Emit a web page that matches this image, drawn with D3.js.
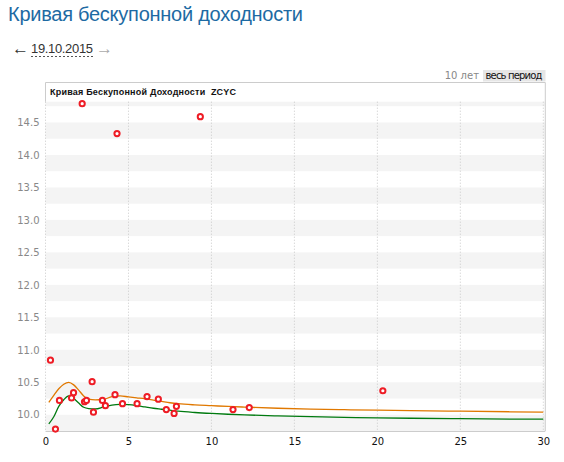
<!DOCTYPE html>
<html>
<head>
<meta charset="utf-8">
<script src="https://cdn.jsdelivr.net/npm/d3@7"></script>
<style>
  body { margin: 0; background: #fff; }
  svg { display: block; }
</style>
</head>
<body>
<div id="chart"></div>
<script>
// bond points: term (years) and yield (%)
var pointTerms = [0.30, 0.60, 0.84, 1.57, 1.69, 2.21, 2.35, 2.47, 2.81, 2.89, 3.43, 3.61, 4.19,
                  4.31, 4.64, 5.52, 6.12, 6.80, 7.28, 7.75, 7.89, 9.33, 11.30, 12.28, 20.33];
var pointYields = [10.84, 9.78, 10.22, 10.26, 10.34, 14.79, 10.20, 10.22, 10.51, 10.04, 10.22, 10.14, 10.31,
                   14.33, 10.17, 10.17, 10.28, 10.24, 10.08, 10.02, 10.13, 14.59, 10.08, 10.11, 10.37];

// curve sample terms and the two curves
var curveTerms = [0.2, 0.5, 0.8, 1.1, 1.4, 1.7, 2.0, 2.3, 2.6, 3.0, 3.5, 4.0, 4.5, 5.0, 5.5, 6.0,
                  6.5, 7.0, 7.5, 8.0, 9.0, 10, 11, 12, 14, 16, 18, 20, 22, 25, 28, 30];
var orangeCurve = [10.19, 10.30, 10.40, 10.47, 10.50, 10.46, 10.38, 10.29, 10.24, 10.23, 10.235, 10.28,
                   10.29, 10.275, 10.26, 10.245, 10.225, 10.205, 10.185, 10.17, 10.152, 10.14, 10.128,
                   10.118, 10.10, 10.087, 10.078, 10.07, 10.063, 10.055, 10.046, 10.04];
var greenCurve = [9.86, 9.97, 10.13, 10.23, 10.29, 10.25, 10.18, 10.115, 10.095, 10.09, 10.12, 10.15,
                  10.16, 10.155, 10.14, 10.12, 10.10, 10.085, 10.07, 10.055, 10.035, 10.02, 10.008,
                  9.998, 9.982, 9.97, 9.96, 9.952, 9.946, 9.94, 9.934, 9.932];

var xTicks = [0, 5, 10, 15, 20, 25, 30];
var yTicks = [10.0, 10.5, 11.0, 11.5, 12.0, 12.5, 13.0, 13.5, 14.0, 14.5];

var svgWidth = 564;
var svgHeight = 462;

var svg = d3.select("#chart").append("svg")
    .attr("width", svgWidth)
    .attr("height", svgHeight);

// page header
svg.append("text")
    .attr("x", 8)
    .attr("y", 21)
    .attr("fill", "#1d6aa3")
    .attr("textLength", 295)
    .style("font", "20px 'Liberation Sans', Arial, sans-serif")
    .text("Кривая бескупонной доходности");

var dateRow = svg.append("g").style("font", "13px 'Liberation Sans', Arial, sans-serif");
dateRow.append("text").attr("x", 12).attr("y", 54).attr("fill", "#333")
    .style("font-size", "17px").text("←");
dateRow.append("text").attr("x", 31).attr("y", 53).attr("fill", "#333")
    .attr("textLength", 62).text("19.10.2015");
dateRow.append("line")
    .attr("x1", 31).attr("x2", 93).attr("y1", 56.5).attr("y2", 56.5)
    .attr("stroke", "#555").attr("stroke-dasharray", "2,2");
dateRow.append("text").attr("x", 96).attr("y", 54).attr("fill", "#aaa")
    .style("font-size", "17px").text("→");

// range buttons
svg.append("rect")
    .attr("x", 483).attr("y", 70).attr("width", 62.5).attr("height", 11.5)
    .attr("fill", "#e6e6e6");
svg.append("text")
    .attr("x", 514).attr("y", 79).attr("text-anchor", "middle")
    .style("font", "10px 'DejaVu Sans', Verdana, sans-serif")
    .attr("fill", "#111").attr("textLength", 57)
    .text("весь период");
svg.append("text")
    .attr("x", 479).attr("y", 79).attr("text-anchor", "end")
    .style("font", "10px 'DejaVu Sans', Verdana, sans-serif")
    .attr("fill", "#888")
    .text("10 лет");

// plot area
var plotLeft = 45.5, plotRight = 543.3, plotTop = 101.7, plotBottom = 431, boxRight = 545.3;

var x = d3.scaleLinear().domain([0, 30]).range([plotLeft, plotRight]);
var y = d3.scaleLinear().domain([9.75, 14.82]).range([plotBottom, plotTop]);

// alternate bands every 0.25
var bands = d3.range(9.75, 14.82, 0.25).filter((d, i) => i % 2 === 0);
svg.append("g").selectAll("rect").data(bands)
  .enter().append("rect")
    .attr("x", plotLeft)
    .attr("width", boxRight - plotLeft)
    .attr("y", d => y(Math.min(d + 0.25, 14.82)))
    .attr("height", d => y(d) - y(Math.min(d + 0.25, 14.82)))
    .attr("fill", "#f4f4f4");

// chart box
svg.append("path")
    .attr("d", `M${plotLeft},${plotTop}V82.5H${boxRight}V${plotBottom}`)
    .attr("fill", "none")
    .attr("stroke", "#ccc");

svg.append("text")
    .attr("x", 50).attr("y", 94.5)
    .style("font", "bold 9px 'Liberation Sans', Arial, sans-serif")
    .style("white-space", "pre")
    .attr("fill", "#111")
    .attr("textLength", 186)
    .text("Кривая Бескупонной Доходности  ZCYC");

// vertical dotted grid
svg.append("g").selectAll("line").data(xTicks)
  .enter().append("line")
    .attr("x1", d => x(d)).attr("x2", d => x(d))
    .attr("y1", plotTop).attr("y2", plotBottom)
    .attr("stroke", "#c8c8c8")
    .attr("stroke-dasharray", "1,2");

// x axis
var bottomAxis = d3.axisBottom(x).tickValues(xTicks).tickSize(0).tickPadding(7).tickFormat(d3.format("d"));
var bottomAxisG = svg.append("g")
    .attr("transform", `translate(0,${plotBottom})`)
    .call(bottomAxis);
bottomAxisG.select(".domain").attr("stroke", "#ccc").attr("d", `M${plotLeft},0.5H${boxRight}`);
bottomAxisG.selectAll("text")
    .style("font", "10px 'DejaVu Sans', Verdana, sans-serif")
    .attr("fill", "#111");

// y axis
var leftAxis = d3.axisLeft(y).tickValues(yTicks).tickSize(0).tickPadding(6).tickFormat(d3.format(".1f"));
var leftAxisG = svg.append("g")
    .attr("transform", `translate(${plotLeft},0)`)
    .call(leftAxis);
leftAxisG.select(".domain").remove();
leftAxisG.selectAll("text")
    .style("font", "10px 'DejaVu Sans', Verdana, sans-serif")
    .attr("fill", "#888");

// curves
var line = d3.line()
    .x(d => x(d[0]))
    .y(d => y(d[1]))
    .curve(d3.curveMonotoneX);

svg.append("path")
    .datum(curveTerms.map((t, i) => [t, orangeCurve[i]]))
    .attr("d", line)
    .attr("fill", "none")
    .attr("stroke", "#e07800")
    .attr("stroke-width", 1.3);

svg.append("path")
    .datum(curveTerms.map((t, i) => [t, greenCurve[i]]))
    .attr("d", line)
    .attr("fill", "none")
    .attr("stroke", "#007a10")
    .attr("stroke-width", 1.3);

// bond points
svg.append("g").selectAll("circle").data(pointTerms)
  .enter().append("circle")
    .attr("cx", (d, i) => x(d))
    .attr("cy", (d, i) => y(pointYields[i]))
    .attr("r", 2.6)
    .attr("fill", "#fff")
    .attr("stroke", "#ee1c25")
    .attr("stroke-width", 2);
</script>
</body>
</html>
